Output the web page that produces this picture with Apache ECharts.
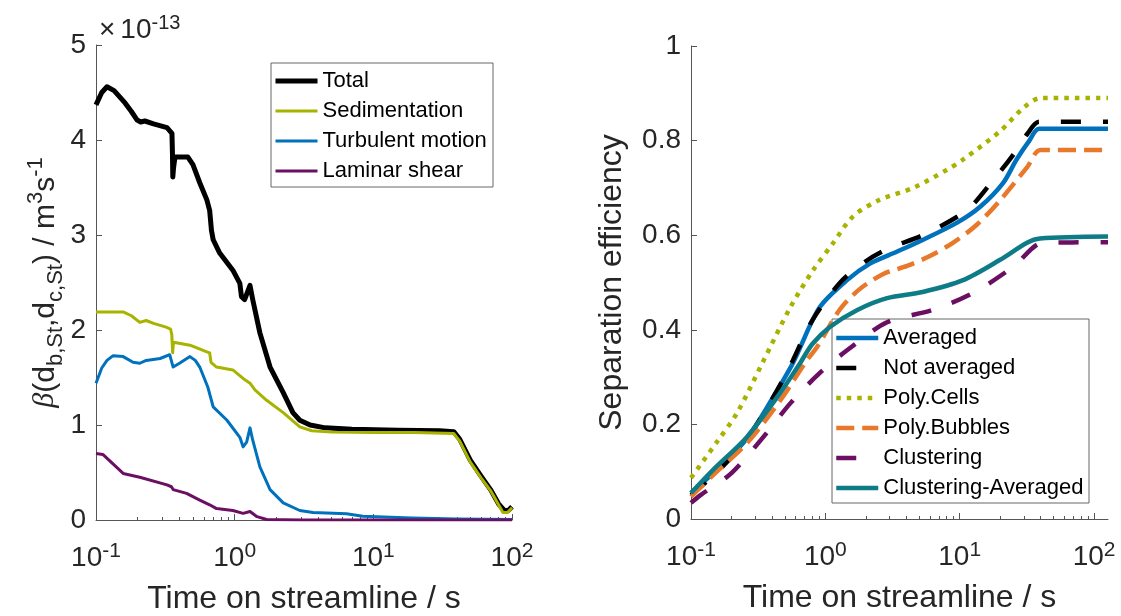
<!DOCTYPE html>
<html>
<head>
<meta charset="utf-8">
<script src="https://cdn.jsdelivr.net/npm/echarts@6/dist/echarts.min.js"></script>
<style>
  html, body { margin: 0; padding: 0; background: #fff; }
  #chart { width: 1121px; height: 616px; }
</style>
</head>
<body>
<div id="chart"></div>
<script>
// ---- left panel: collision kernel (x 1e-13 m^3/s) ----
const totalT = [0.1, 0.11, 0.12, 0.135, 0.162, 0.18, 0.198, 0.21, 0.225, 0.26, 0.325, 0.353, 0.356, 0.358, 0.362, 0.371, 0.46, 0.5, 0.56, 0.63, 0.66, 0.68, 0.7, 0.78, 0.97, 1.09, 1.12, 1.18, 1.29, 1.35, 1.52, 1.8, 2.24, 2.63, 2.95, 3.5, 4.5, 7, 15, 30, 38, 42, 50, 60, 70, 80, 88, 94, 100];
const totalV = [4.37, 4.5, 4.56, 4.52, 4.39, 4.3, 4.21, 4.19, 4.2, 4.17, 4.13, 4.07, 3.85, 3.61, 3.7, 3.82, 3.82, 3.74, 3.55, 3.37, 3.26, 3.05, 2.95, 2.81, 2.63, 2.49, 2.35, 2.32, 2.47, 2.32, 1.97, 1.61, 1.34, 1.13, 1.05, 1.0, 0.97, 0.955, 0.945, 0.94, 0.93, 0.85, 0.63, 0.46, 0.32, 0.17, 0.1, 0.1, 0.14];

const sedT = [0.1, 0.157, 0.18, 0.207, 0.23, 0.26, 0.32, 0.345, 0.352, 0.357, 0.362, 0.476, 0.63, 0.66, 0.675, 0.74, 0.97, 1.15, 1.29, 1.4, 1.7, 2.24, 2.95, 3.6, 5, 10, 20, 38, 42, 50, 60, 70, 80, 86, 93, 100];
const sedV = [2.19, 2.19, 2.15, 2.08, 2.1, 2.07, 2.03, 2.01, 1.95, 1.76, 1.87, 1.84, 1.77, 1.76, 1.66, 1.61, 1.58, 1.49, 1.44, 1.37, 1.26, 1.13, 0.98, 0.94, 0.925, 0.92, 0.92, 0.91, 0.83, 0.61, 0.44, 0.31, 0.16, 0.08, 0.08, 0.13];

const turbT = [0.1, 0.11, 0.12, 0.133, 0.157, 0.185, 0.207, 0.23, 0.29, 0.34, 0.36, 0.4, 0.476, 0.52, 0.56, 0.64, 0.7, 0.88, 1.09, 1.15, 1.22, 1.29, 1.35, 1.52, 1.8, 2.24, 2.95, 3.67, 6.4, 8.4, 19, 40, 100];
const turbV = [1.44, 1.6, 1.68, 1.73, 1.72, 1.66, 1.65, 1.68, 1.7, 1.74, 1.61, 1.65, 1.72, 1.68, 1.61, 1.4, 1.19, 1.05, 0.87, 0.77, 0.82, 0.97, 0.84, 0.56, 0.32, 0.18, 0.1, 0.08, 0.065, 0.04, 0.02, 0.01, 0.005];

const lamT = [0.1, 0.112, 0.157, 0.207, 0.325, 0.35, 0.36, 0.45, 0.56, 0.66, 0.74, 0.97, 1.15, 1.29, 1.45, 1.7, 3, 100];
const lamV = [0.70, 0.69, 0.49, 0.45, 0.37, 0.35, 0.32, 0.28, 0.21, 0.16, 0.12, 0.10, 0.07, 0.09, 0.035, 0.005, 0, 0];

// ---- right panel: separation efficiency ----
const avgT = [0.1, 0.164, 0.26, 0.41, 0.55, 0.62, 0.91, 1.45, 2.15, 3.4, 5.3, 9.5, 14.2, 21, 26.5, 33, 39, 127];
const avgV = [0.055, 0.11, 0.17, 0.258, 0.32, 0.35, 0.448, 0.505, 0.54, 0.565, 0.59, 0.626, 0.66, 0.71, 0.76, 0.8, 0.825, 0.825];

const notAvgT = [0.1, 0.164, 0.26, 0.41, 0.55, 0.8, 1.29, 2.0, 3.0, 5.3, 11.3, 17.8, 25, 32, 39, 127];
const notAvgV = [0.05, 0.105, 0.168, 0.258, 0.325, 0.42, 0.5, 0.545, 0.573, 0.6, 0.653, 0.717, 0.77, 0.815, 0.84, 0.84];

const cellsT = [0.1, 0.156, 0.22, 0.34, 0.55, 0.81, 1.14, 1.61, 2.5, 4.5, 8, 10.6, 20, 30, 40, 127];
const cellsV = [0.087, 0.163, 0.224, 0.33, 0.448, 0.526, 0.583, 0.64, 0.674, 0.7, 0.738, 0.76, 0.82, 0.87, 0.89, 0.89];

const bubT = [0.1, 0.146, 0.26, 0.46, 0.73, 0.87, 1.29, 1.8, 2.7, 4.06, 6, 8.9, 13.4, 20, 31.8, 40, 127];
const bubV = [0.047, 0.093, 0.16, 0.25, 0.336, 0.364, 0.444, 0.486, 0.518, 0.535, 0.556, 0.584, 0.622, 0.674, 0.744, 0.78, 0.78];

const clusT = [0.1, 0.117, 0.2, 0.34, 0.55, 0.91, 1.5, 2.88, 6.3, 12.6, 25, 41.8, 127];
const clusV = [0.034, 0.05, 0.097, 0.171, 0.245, 0.309, 0.36, 0.416, 0.442, 0.478, 0.533, 0.584, 0.585];

const clusAvgT = [0.1, 0.146, 0.26, 0.46, 0.65, 0.8, 1.08, 1.73, 2.88, 5.3, 10.6, 20, 31.7, 39.6, 127];
const clusAvgV = [0.055, 0.104, 0.173, 0.266, 0.33, 0.37, 0.406, 0.442, 0.467, 0.48, 0.505, 0.548, 0.584, 0.593, 0.597];

const majorTicks = [0.1, 1, 10, 100];
const FONT = '"Liberation Sans", Arial, sans-serif';
const INK = '#262626';

function pairs(t, v) {
  return t.map((x, i) => [x, v[i]]);
}

// minor log ticks 2..9 for each decade inside [0.1, 100]
let minorTicks = [];
for (let d = 0.1; d < 100; d *= 10) {
  for (let k = 2; k <= 9; k++) {
    minorTicks.push(+(k * d).toPrecision(3));
  }
}

function logAxes(grid, max) {
  return [
    {
      type: 'log', logBase: 10, gridIndex: grid, min: 0.1, max: max, position: 'bottom',
      axisLine: { show: true, lineStyle: { color: '#555', width: 1 } },
      axisTick: { show: true, inside: true, length: 6, customValues: majorTicks, lineStyle: { color: '#555' } },
      axisLabel: {
        customValues: majorTicks,
        margin: 21,
        color: INK, fontFamily: FONT, fontSize: 28, lineHeight: 34,
        formatter: (v) => '10{sup|' + Math.round(Math.log10(v)) + '}',
        rich: { sup: { fontSize: 21, lineHeight: 21, verticalAlign: 'top', color: INK, fontFamily: FONT } },
      },
      splitLine: { show: false },
      name: 'Time on streamline / s',
      nameLocation: 'middle',
      nameGap: 63,
      nameTextStyle: { color: INK, fontFamily: FONT, fontSize: 32 },
    },
    {
      type: 'log', logBase: 10, gridIndex: grid, min: 0.1, max: max, position: 'bottom',
      axisLine: { show: false },
      axisTick: { show: true, inside: true, length: 3, customValues: minorTicks, lineStyle: { color: '#555' } },
      axisLabel: { show: false },
      splitLine: { show: false },
    },
  ];
}

function valueAxis(grid, max, interval) {
  return {
    type: 'value', gridIndex: grid, min: 0, max: max, interval: interval,
    axisLine: { show: true, lineStyle: { color: '#555', width: 1 } },
    axisTick: { show: true, inside: true, length: 6, lineStyle: { color: '#555' } },
    axisLabel: { color: INK, fontFamily: FONT, fontSize: 28, margin: 10 },
    splitLine: { show: false },
    nameLocation: 'middle',
    nameRotate: 90,
  };
}

function line(name, data, x, y, color, width, type, smooth) {
  return {
    name: name, type: 'line', data: data,
    xAxisIndex: x, yAxisIndex: y,
    symbol: 'none', showSymbol: false,
    smooth: smooth || false,
    lineStyle: { color: color, width: width, type: type || 'solid', join: 'round' },
    itemStyle: { color: color },
    emphasis: { disabled: true },
  };
}

let leftY = valueAxis(0, 5, 1);
leftY.name = '{b|β}(d{sub|b,St},d{sub|c,St}) / m{sup|3}s{sup|-1}';
leftY.nameGap = 27;
leftY.nameTextStyle = {
  color: INK, fontFamily: FONT, fontSize: 30, lineHeight: 42,
  rich: {
    b: { fontFamily: '"Liberation Serif", serif', fontStyle: 'italic', fontSize: 30, color: INK },
    sub: { fontSize: 22, lineHeight: 22, verticalAlign: 'bottom', color: INK, fontFamily: FONT },
    sup: { fontSize: 22, lineHeight: 22, verticalAlign: 'top', color: INK, fontFamily: FONT },
  },
};

let rightY = valueAxis(1, 1, 0.2);
rightY.name = 'Separation efficiency';
rightY.nameGap = 63;
rightY.nameTextStyle = { color: INK, fontFamily: FONT, fontSize: 32 };

const legendText = { color: '#000', fontFamily: FONT, fontSize: 22, lineHeight: 30 };

function legendItems(names, widths) {
  return names.map((n, i) => ({ name: n, lineStyle: { width: widths[i] } }));
}

const chart = echarts.init(document.getElementById('chart'));
chart.setOption({
  animation: false,
  backgroundColor: '#fff',
  grid: [
    { left: 96, top: 45, width: 416, height: 475, outerBoundsMode: 'none' },
    { left: 691, top: 46, width: 417, height: 473, outerBoundsMode: 'none' },
  ],
  xAxis: logAxes(0, 100).concat(logAxes(1, 127)),
  yAxis: [leftY, rightY],
  legend: [
    {
      data: legendItems(['Total', 'Sedimentation', 'Turbulent motion', 'Laminar shear'], [5, 3, 3, 3]),
      orient: 'vertical', left: 273, top: 66, padding: 0, itemGap: 0,
      itemWidth: 42, itemHeight: 14, selectedMode: false, textStyle: legendText,
      itemStyle: { opacity: 0 },
    },
    {
      data: legendItems(['Averaged', 'Not averaged', 'Poly.Cells', 'Poly.Bubbles', 'Clustering', 'Clustering-Averaged'], [4.5, 4.5, 4.5, 4.5, 4.5, 4.5]),
      orient: 'vertical', left: 834, top: 323, padding: 0, itemGap: 0,
      itemWidth: 42, itemHeight: 14, selectedMode: false, textStyle: legendText,
      itemStyle: { opacity: 0 },
    },
  ],
  graphic: [
    {
      type: 'text', left: 99, top: 13, z: 5,
      style: {
        text: '{x|×}{m|10}{sup|-13}',
        rich: {
          x: { fontSize: 28, lineHeight: 34, fill: INK, fontFamily: FONT, padding: [0, 5, 0, 0] },
          m: { fontSize: 28, lineHeight: 34, fill: INK, fontFamily: FONT },
          sup: { fontSize: 20, lineHeight: 20, verticalAlign: 'top', fill: INK, fontFamily: FONT },
        },
      },
    },
    {
      type: 'rect', z: 3, shape: { x: 271, y: 63, width: 222, height: 124 },
      style: { fill: '#fff', stroke: '#666', lineWidth: 1 },
    },
    {
      type: 'rect', z: 3, shape: { x: 832, y: 319, width: 257, height: 184 },
      style: { fill: '#fff', stroke: '#666', lineWidth: 1 },
    },
  ],
  series: [
    line('Total', pairs(totalT, totalV), 0, 0, '#000000', 5),
    line('Sedimentation', pairs(sedT, sedV), 0, 0, '#a8b300', 3),
    line('Turbulent motion', pairs(turbT, turbV), 0, 0, '#0072bd', 3),
    line('Laminar shear', pairs(lamT, lamV), 0, 0, '#6b0f63', 3),

    line('Averaged', pairs(avgT, avgV), 2, 1, '#0072bd', 4.5, 'solid', 0.3),
    line('Not averaged', pairs(notAvgT, notAvgV), 2, 1, '#000000', 4.5, [20, 22], 0.3),
    line('Poly.Cells', pairs(cellsT, cellsV), 2, 1, '#a8b300', 4.5, [4.5, 6], 0.3),
    line('Poly.Bubbles', pairs(bubT, bubV), 2, 1, '#e8782a', 4.5, [18, 8], 0.3),
    line('Clustering', pairs(clusT, clusV), 2, 1, '#6b0f63', 4.5, [20, 22], 0.3),
    line('Clustering-Averaged', pairs(clusAvgT, clusAvgV), 2, 1, '#0e7c87', 4.5, 'solid', 0.3),
  ],
});
</script>
</body>
</html>
